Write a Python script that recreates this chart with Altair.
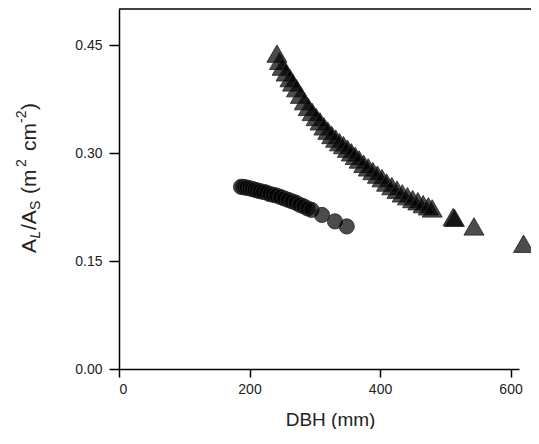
import altair as alt
import pandas as pd

# Triangles (larger trees group)
tri_x = [242, 246, 250, 256, 262, 266, 272, 278, 284, 290, 296, 302, 308, 314, 320,
         326, 332, 338, 344, 350, 356, 362, 368, 375, 382, 389, 396, 403, 410, 418,
         426, 434, 442, 450, 458, 466, 474, 480, 512, 514, 544, 620]
tri_y = [0.438, 0.428, 0.420, 0.412, 0.404, 0.398, 0.390, 0.381, 0.372, 0.364, 0.357,
         0.350, 0.344, 0.337, 0.331, 0.325, 0.320, 0.315, 0.311, 0.306, 0.301, 0.296,
         0.291, 0.285, 0.280, 0.275, 0.270, 0.265, 0.259, 0.254, 0.249, 0.244, 0.240,
         0.236, 0.233, 0.229, 0.226, 0.223, 0.211, 0.210, 0.198, 0.174]

# Circles (smaller trees group)
cir_x = [187, 190, 193, 196, 200, 204, 208, 212, 216, 221, 226, 231, 236, 241, 247,
         253, 259, 265, 271, 277, 283, 289, 295, 311, 331, 349]
cir_y = [0.253, 0.253, 0.252, 0.252, 0.251, 0.250, 0.249, 0.248, 0.247, 0.246, 0.245,
         0.243, 0.242, 0.241, 0.239, 0.237, 0.235, 0.233, 0.231, 0.228, 0.226, 0.223,
         0.221, 0.214, 0.205, 0.198]

x_ticks = [0, 200, 400, 600]
y_ticks = [0.0, 0.15, 0.30, 0.45]

W, H = 400, 360
PAD_R = 12
FONT = "Liberation Sans"
TXT = "#222222"

tri_df = pd.DataFrame({"dbh": tri_x, "ratio": tri_y})
cir_df = pd.DataFrame({"dbh": cir_x, "ratio": cir_y})

xscale = alt.Scale(domain=[0, 613], nice=False, zero=False)
yscale = alt.Scale(domain=[0, 0.5], nice=False)

common_axis = dict(grid=False, domainColor="black", domainWidth=1.5,
                   tickColor="black", tickWidth=1.5, labelFont=FONT,
                   labelFontSize=14, labelColor=TXT)

xaxis = alt.Axis(values=x_ticks, format="d", title="DBH (mm)",
                 titleBaseline="alphabetic", titleY=56, titleX=211,
                 titleFontSize=19, titleFont=FONT, titleFontWeight="normal",
                 titleColor=TXT, labelPadding=5, tickSize=8, **common_axis)
yaxis = alt.Axis(values=y_ticks, format=".2f", title=None,
                 labelPadding=7, tickSize=10, **common_axis)

point_style = dict(filled=True, color="black", fillOpacity=0.7,
                   stroke="#2a2a2a", strokeWidth=1, strokeOpacity=0.9)

tri = alt.Chart(tri_df).mark_point(
    shape="triangle-up", size=400, **point_style
).encode(
    x=alt.X("dbh:Q", scale=xscale, axis=xaxis),
    y=alt.Y("ratio:Q", scale=yscale, axis=yaxis),
)

cir = alt.Chart(cir_df).mark_point(
    shape="circle", size=230, **point_style
).encode(
    x=alt.X("dbh:Q", scale=xscale, axis=xaxis),
    y=alt.Y("ratio:Q", scale=yscale, axis=yaxis),
)

top_rule = alt.Chart(pd.DataFrame({"a": [0]})).mark_rule(
    color="black", strokeWidth=1.5
).encode(x=alt.value(0), x2=alt.value(W + PAD_R), y=alt.value(0))

# y-axis title pieces: A_L/A_S (m^2 cm^-2)
pieces = [
    ("A", 244, -83.5, 21, "normal"),
    ("L", 229.5, -79, 14, "italic"),
    ("/A", 221, -83.5, 21, "normal"),
    ("S", 201, -79, 14, "normal"),
    ("(m", 185, -83.5, 21, "normal"),
    ("2", 158, -93, 14, "normal"),
    ("cm", 142, -83.5, 21, "normal"),
    ("-2", 114, -93, 14, "normal"),
    (")", 101, -83.5, 21, "normal"),
]
title_layers = []
for txt, py, px, fs, st in pieces:
    title_layers.append(
        alt.Chart(pd.DataFrame({"t": [txt]})).mark_text(
            angle=270, align="left", baseline="alphabetic", fontSize=fs,
            fontStyle=st, font=FONT, color=TXT
        ).encode(x=alt.value(px), y=alt.value(py), text="t:N")
    )

chart = alt.layer(cir, tri, top_rule, *title_layers).properties(
    width=W, height=H,
    autosize=alt.AutoSizeParams(type="none"),
    padding={"left": 111, "top": 1, "right": PAD_R, "bottom": 60},
).configure_view(stroke="transparent", strokeWidth=0)

chart.save("out.html", embed_options={"renderer": "svg", "actions": False})
